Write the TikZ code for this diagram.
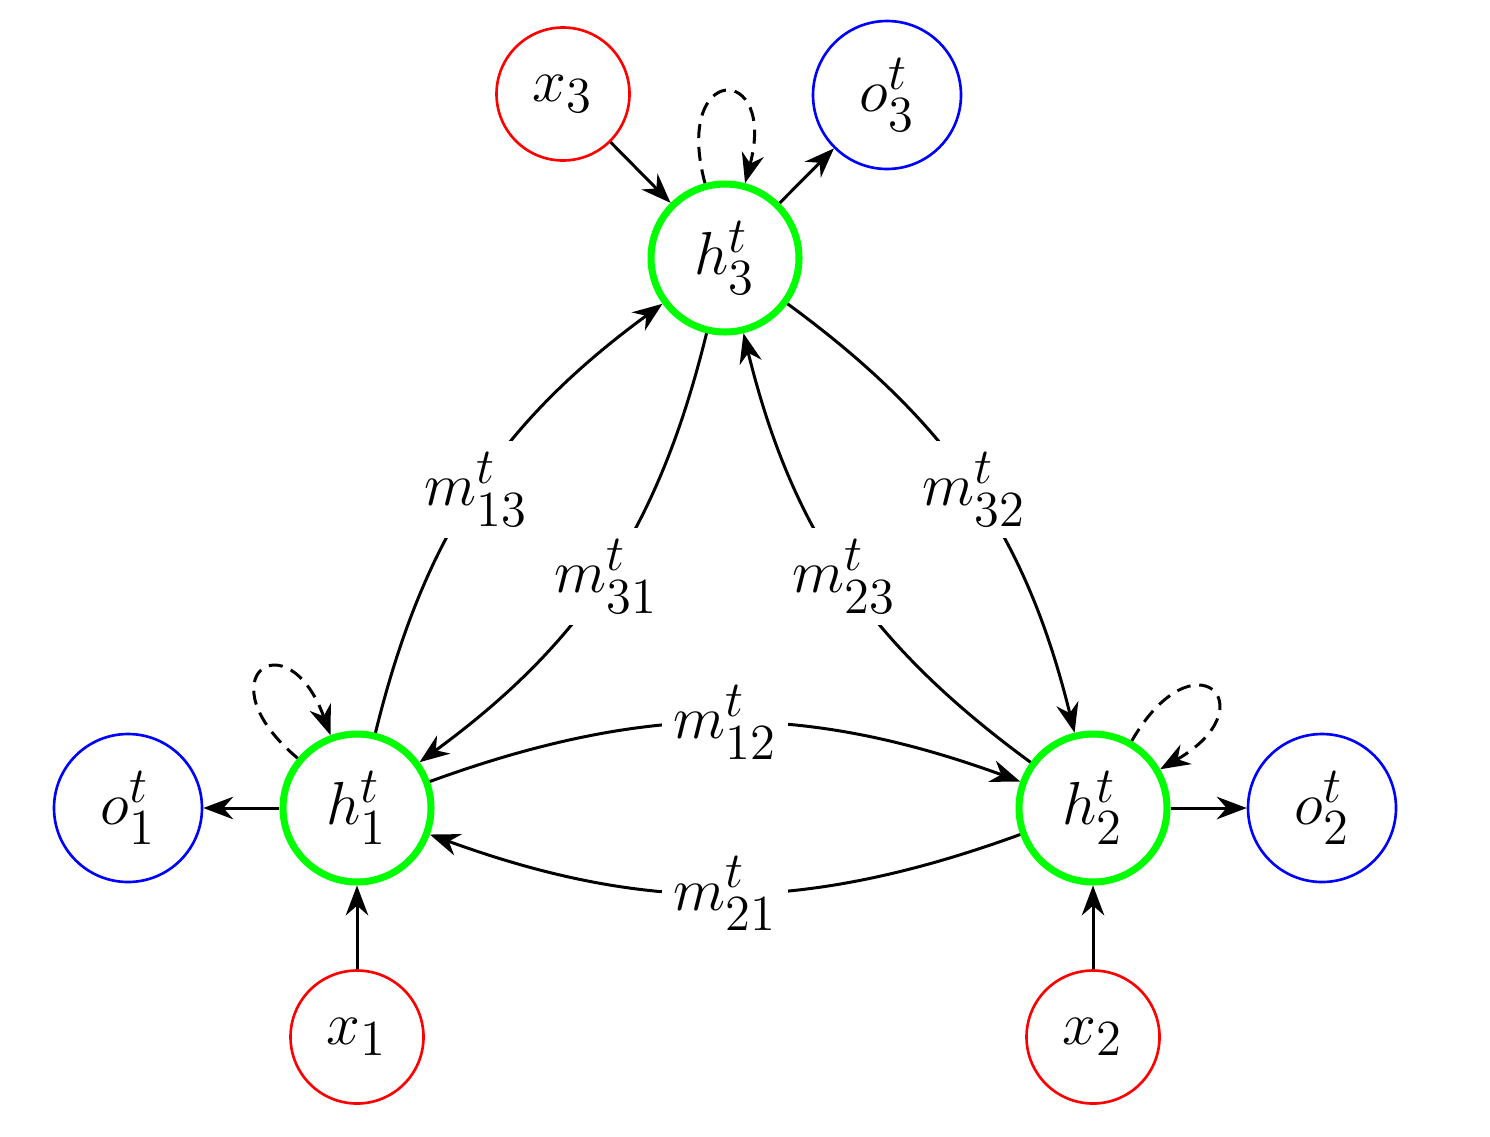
\documentclass[tikz,border=0pt]{standalone}
\usepackage{amsmath}
\usepackage{xcolor}
\usepackage{tikz}
\usetikzlibrary{arrows.meta,positioning}
\colorlet{hiddenGreen}{green}
\colorlet{inputRed}{red}
\colorlet{outputBlue}{blue}
\tikzset{
  >=Stealth,
  hidden/.style={
    circle,
    draw=hiddenGreen,
    line width=2pt,
    minimum size=14.8mm,
    inner sep=0pt,
    font=\fontsize{19}{23}\selectfont
  },
  inputnode/.style={
    circle,
    draw=inputRed,
    line width=0.75pt,
    minimum size=13.3mm,
    inner sep=0pt,
    font=\fontsize{19}{23}\selectfont
  },
  outputnode/.style={
    circle,
    draw=outputBlue,
    line width=0.75pt,
    minimum size=14.8mm,
    inner sep=0pt,
    font=\fontsize{19}{23}\selectfont
  },
  arrow/.style={
    -{Stealth[length=8.5pt,width=6.4pt]},
    line width=0.85pt,
    draw=black
  },
  selfloop/.style={
    -{Stealth[length=8.5pt,width=6.4pt]},
    line width=0.85pt,
    draw=black,
    dash pattern=on 4pt off 2.5pt
  },
  msg/.style={
    fill=white,
    font=\fontsize{19}{23}\selectfont
  }
}
\begin{document}
\begin{tikzpicture}[x=1cm,y=1cm]
\useasboundingbox (0,0) rectangle (14.9,11.36);

% hidden states
\node[hidden] (h1) at (3.57,3.28) {$h^t_1$};
\node[hidden] (h2) at (10.93,3.28) {$h^t_2$};
\node[hidden] (h3) at (7.25,8.78) {$h^t_3$};

% inputs and outputs
\node[inputnode] (x1) at (3.57,0.99) {$x_1$};
\node[inputnode] (x2) at (10.93,0.99) {$x_2$};
\node[inputnode] (x3) at (5.63,10.42) {$x_3$};
\node[outputnode] (o1) at (1.28,3.28) {$o^t_1$};
\node[outputnode] (o2) at (13.22,3.28) {$o^t_2$};
\node[outputnode] (o3) at (8.87,10.41) {$o^t_3$};

\draw[arrow] (x1) -- (h1);
\draw[arrow] (x2) -- (h2);
\draw[arrow] (x3) -- (h3);
\draw[arrow] (h1) -- (o1);
\draw[arrow] (h2) -- (o2);
\draw[arrow] (h3) -- (o3);

% messages between the hidden states
\draw[arrow] (h1) to[bend left=20] node[msg] {$m^t_{13}$} (h3);
\draw[arrow] (h3) to[bend left=20] node[msg] {$m^t_{31}$} (h1);
\draw[arrow] (h1) to[bend left=20] node[msg] {$m^t_{12}$} (h2);
\draw[arrow] (h2) to[bend left=20] node[msg] {$m^t_{21}$} (h1);
\draw[arrow] (h2) to[bend left=20] node[msg] {$m^t_{23}$} (h3);
\draw[arrow] (h3) to[bend left=20] node[msg] {$m^t_{32}$} (h2);

% recurrent self loops
\draw[selfloop] (h1) to[out=140,in=110,loop] (h1);
\draw[selfloop] (h2) to[out=60,in=30,loop] (h2);
\draw[selfloop] (h3) to[out=105,in=75,loop] (h3);

\end{tikzpicture}
\end{document}
